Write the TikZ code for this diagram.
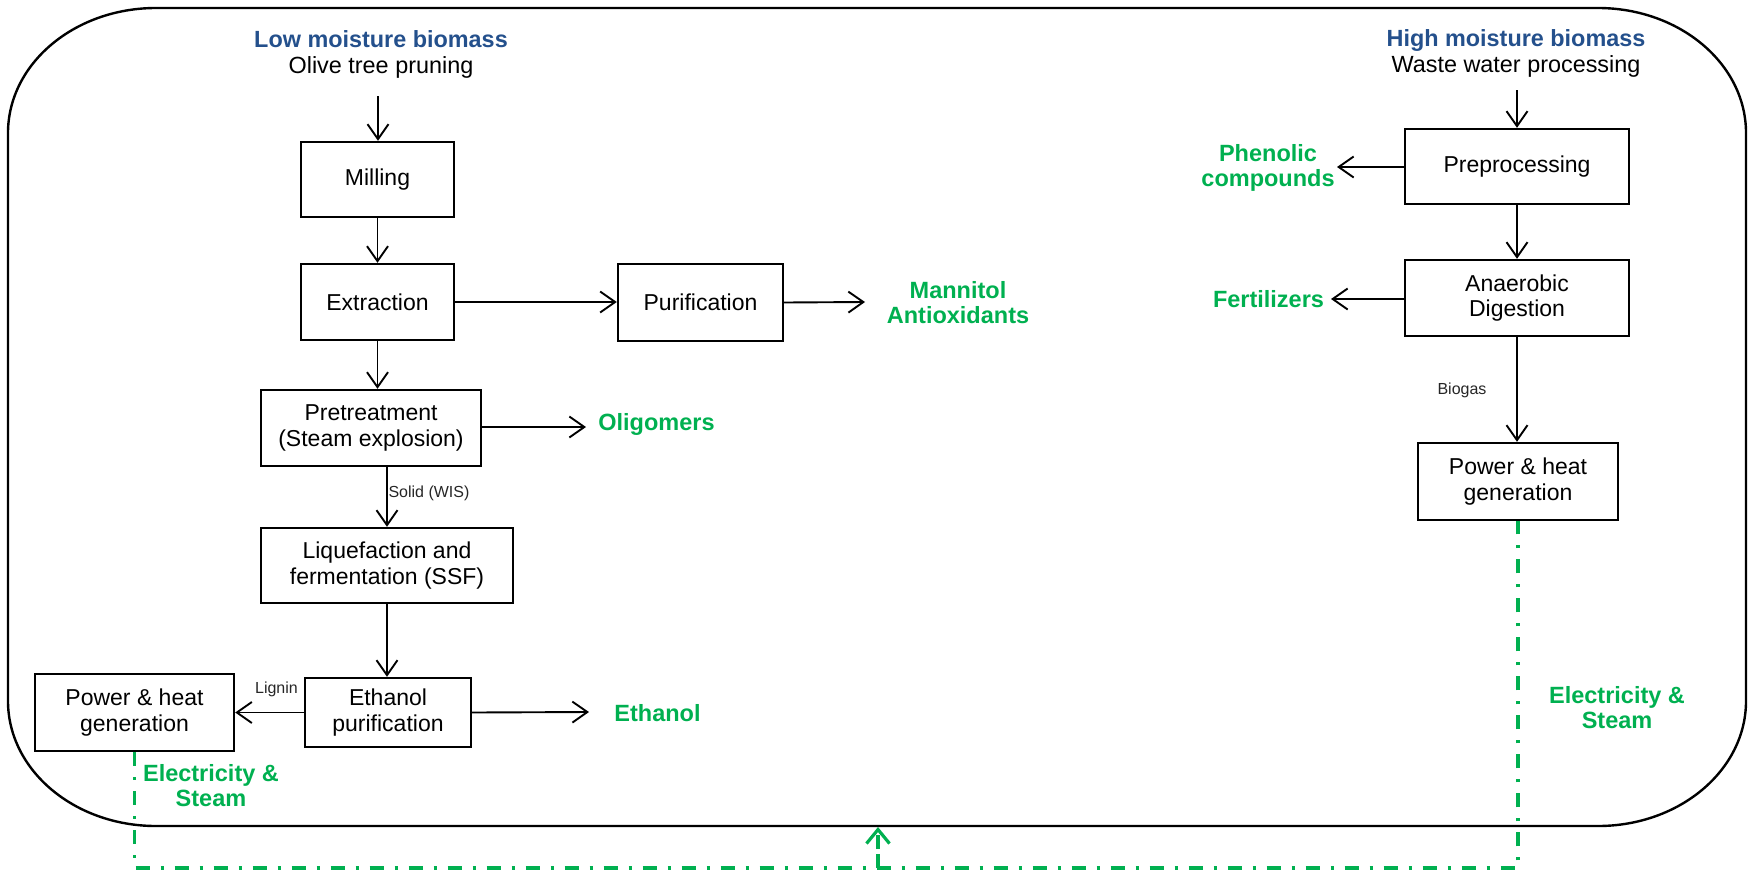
\documentclass[tikz,border=0pt]{standalone}
\usepackage{fontspec}
\setmainfont{Liberation Sans}
\usetikzlibrary{arrows.meta}

\definecolor{prodgreen}{RGB}{0,176,80}
\definecolor{feedblue}{RGB}{36,80,140}

\begin{document}
\begin{tikzpicture}[x=1pt,y=-1pt,
  proc/.style={draw,line width=2.4pt,align=center,inner sep=0pt,
    font=\fontsize{23}{25.5}\selectfont},
  flow/.style={line width=1.9pt,-{Straight Barb[length=15pt,width=21pt,line width=1.9pt]}},
  product/.style={text=prodgreen,align=center,font=\fontsize{23.5}{25}\selectfont\bfseries},
  feed/.style={align=center,font=\fontsize{23.4}{26}\selectfont},
  small/.style={font=\fontsize{16}{18}\selectfont,text=black!85},
  energy/.style={draw=prodgreen,line width=3.2pt,dash pattern=on 14pt off 11pt on 3pt off 11pt},
]
\useasboundingbox (0,0) rectangle (1750,873);

% outer frame with elliptical corners
\draw[line width=2.4pt]
  (156,8) -- (1598,8) arc[start angle=-90,end angle=0,x radius=148,y radius=125]
  -- (1746,701) arc[start angle=0,end angle=90,x radius=148,y radius=125]
  -- (156,826) arc[start angle=90,end angle=180,x radius=148,y radius=125]
  -- (8,133) arc[start angle=180,end angle=270,x radius=148,y radius=125] -- cycle;

% ---- low moisture branch ----
\node[feed] (src1) at (381,54.5) {{\bfseries\color{feedblue}Low moisture biomass}\\Olive tree pruning};
\coordinate (in1) at (378,96);

\node[proc,minimum width=153pt,minimum height=75pt] (mill) at (377.5,179.5) {Milling};
\node[proc,minimum width=153pt,minimum height=76pt] (extr) at (377.5,302) {Extraction};
\node[proc,minimum width=165pt,minimum height=77pt] (purif) at (700.5,302.5) {Purification};
\node[proc,minimum width=220pt,minimum height=76pt] (pret) at (371,428) {Pretreatment\\(Steam explosion)};
\node[proc,minimum width=252pt,minimum height=75pt] (liq) at (387,565.5) {Liquefaction and\\fermentation (SSF)};
\node[proc,minimum width=166pt,minimum height=69pt] (ethp) at (388,712.5) {Ethanol\\purification};
\node[proc,minimum width=199pt,minimum height=77pt] (pow1) at (134.5,712.5) {Power \& heat\\generation};

\node[product] (mann) at (958,303) {Mannitol\\Antioxidants};
\node[product] (olig) at (656.5,424) {Oligomers};
\node[product] (etoh) at (657.5,713) {Ethanol};
\coordinate (mannin) at (865,302);
\coordinate (oligin) at (586,427);
\coordinate (etohin) at (589,712);

\draw[flow] (in1) -- (mill.north -| in1);
\draw[flow] (mill.south) -- (extr.north);
\draw[flow] (extr.east) -- (purif.west |- extr.east);
\draw[flow] (purif.east) -- (mannin);
\draw[flow] (extr.south) -- (extr.south |- pret.north);
\draw[flow] (pret.east |- oligin) -- (oligin);
\draw[flow] (liq.north |- pret.south) -- (liq.north);
\draw[flow] (liq.south) -- (liq.south |- ethp.north);
\draw[flow] (ethp.west) -- (pow1.east);
\draw[flow] (ethp.east) -- (etohin);

\node[small] (solid) at (429,493) {Solid (WIS)};
\node[small] (lignin) at (276.5,689) {Lignin};

% ---- high moisture branch ----
\node[feed] (src2) at (1516,53) {{\bfseries\color{feedblue}High moisture biomass}\\Waste water processing};
\coordinate (in2) at (1517,90);

\node[proc,minimum width=224pt,minimum height=75pt] (prep) at (1517,166.5) {Preprocessing};
\node[proc,minimum width=224pt,minimum height=76pt] (anae) at (1517,298) {Anaerobic\\Digestion};
\node[proc,minimum width=200pt,minimum height=77pt] (pow2) at (1518,481.5) {Power \& heat\\generation};

\node[product] (phen) at (1268,167.5) {Phenolic\\compounds};
\node[product] (fert) at (1268.5,299) {Fertilizers};
\coordinate (phenin) at (1337,167);
\coordinate (fertin) at (1331,299);

\draw[flow] (in2) -- (prep.north);
\draw[flow] (prep.west |- phenin) -- (phenin);
\draw[flow] (prep.south) -- (anae.north);
\draw[flow] (anae.west |- fertin) -- (fertin);
\draw[flow] (anae.south) -- (anae.south |- pow2.north);

\node[small] (biogas) at (1462,390) {Biogas};

% ---- energy return loop ----
\coordinate (gbase) at (878,868);
\coordinate (gtip) at (878,827);
\draw[energy] (pow1.south) |- (gbase) -| (pow2.south);
\draw[energy,dash pattern=on 14pt off 5pt,
  -{Straight Barb[length=14pt,width=23pt,line width=3.2pt]}] (gbase) -- (gtip);

\node[product] (es1) at (211,785.5) {Electricity \&\\Steam};
\node[product] (es2) at (1617,707.5) {Electricity \&\\Steam};
\end{tikzpicture}
\end{document}
